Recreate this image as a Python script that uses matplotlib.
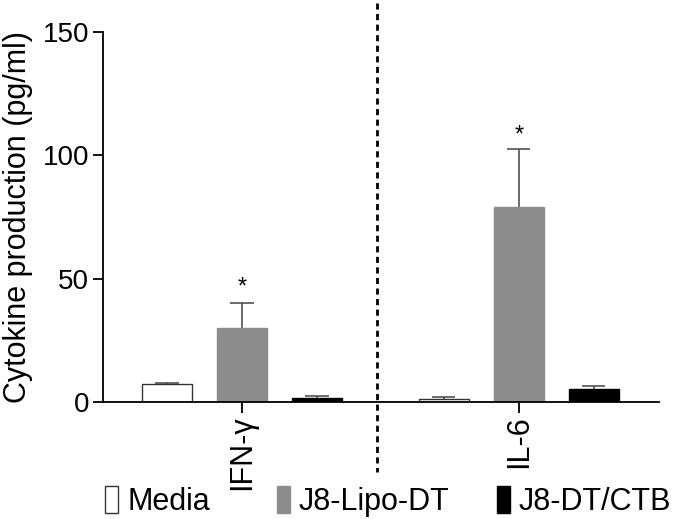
import matplotlib
matplotlib.use("Agg")
import matplotlib.pyplot as plt
import matplotlib.transforms as mtransforms
from matplotlib.patches import Patch
import numpy as np

plt.rcParams['font.family'] = ['Liberation Sans', 'DejaVu Sans']

cytokines = ["IFN-γ", "IL-6"]
groups = ["Media", "J8-Lipo-DT", "J8-DT/CTB"]
means = {
    "Media":      [7.2, 1.1],
    "J8-Lipo-DT": [30.1, 79.2],
    "J8-DT/CTB":  [1.6, 5.2],
}
errors = {
    "Media":      [0.7, 0.9],
    "J8-Lipo-DT": [9.9, 23.2],
    "J8-DT/CTB":  [0.8, 1.3],
}
significant = {"J8-Lipo-DT": [True, True]}
star_y = [51, 112.5]
yticks = [0, 50, 100, 150]

colors = {"Media": "white", "J8-Lipo-DT": "#8c8c8c", "J8-DT/CTB": "black"}
edges = {"Media": "#333333", "J8-Lipo-DT": "#8c8c8c", "J8-DT/CTB": "black"}

fig = plt.figure(figsize=(6.75, 5.19), dpi=100)
ax = fig.add_axes([103/675, 1-402/519, (659-103)/675, 370/519])

centers = np.array([0.0, 3.69])
offsets = [-1, 0, 1]
width = 0.667
cap_half = 0.155
for g, off in zip(groups, offsets):
    x = centers + off
    m = np.array(means[g])
    e = np.array(errors[g])
    ax.vlines(x, m, m + e, color='#444444', linewidth=1.1, zorder=1)
    ax.hlines(m + e, x - cap_half, x + cap_half, color='#444444', linewidth=1.1, zorder=1)
    ax.bar(x, m, width=width, color=colors[g], edgecolor=edges[g],
           linewidth=1.0, zorder=2)

for i, c in enumerate(centers):
    if significant["J8-Lipo-DT"][i]:
        ax.text(c, star_y[i], "*", ha='center', va='top', fontsize=17)

ax.set_ylim(0, 150)
ax.set_xlim(-1.853, 5.56)
ax.set_yticks(yticks)
ax.set_yticklabels([str(t) for t in yticks], fontsize=20)
ax.set_xticks(centers)
ax.set_xticklabels(cytokines, rotation=90, fontsize=22)
ax.tick_params(axis='y', length=7, width=1.3, pad=3)
ax.tick_params(axis='x', length=8, width=1.3, pad=1.5)
for s in ['top', 'right']:
    ax.spines[s].set_visible(False)
for s in ['left', 'bottom']:
    ax.spines[s].set_linewidth(1.3)

ax.set_ylabel("Cytokine production (pg/ml)", fontsize=22)
ax.yaxis.set_label_coords((33 - 103) / 556, 0.5)

trans = mtransforms.blended_transform_factory(ax.transData, ax.transAxes)
ax.plot([1.8, 1.8], [1.078, -0.189], transform=trans, color='black',
        linestyle=(0, (2.2, 1.6)), linewidth=2, clip_on=False)

box_x = [105, 277, 497]
for g, bx in zip(groups, box_x):
    h = Patch(facecolor=colors[g], edgecolor=edges[g], linewidth=1.0)
    fig.legend([h], [g], loc='lower left', bbox_to_anchor=(bx / 675, 0.004),
               frameon=False, fontsize=22, handlelength=0.42,
               handleheight=1.0, handletextpad=0.3, borderpad=0,
               borderaxespad=0)

fig.savefig("out.png", dpi=100)
